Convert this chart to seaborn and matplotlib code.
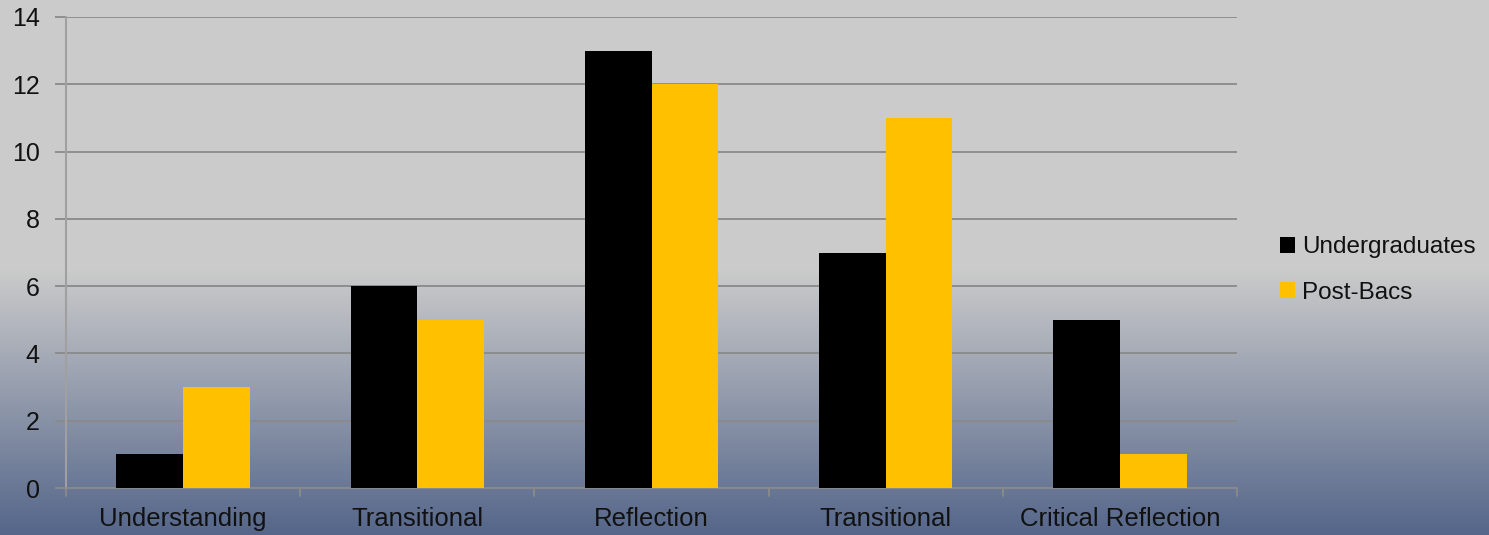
import numpy as np
import pandas as pd
import matplotlib
matplotlib.use("Agg")
import matplotlib.pyplot as plt
import seaborn as sns
from matplotlib.patches import Patch

categories = ["Understanding", "Transitional", "Reflection", "Transitional ", "Critical Reflection"]
category_labels = ["Understanding", "Transitional", "Reflection", "Transitional", "Critical Reflection"]
undergraduates = [1, 6, 13, 7, 5]
post_bacs = [3, 5, 12, 11, 1]
series_names = ["Undergraduates", "Post-Bacs"]
colors = ["#000000", "#FFC000"]

df = pd.DataFrame({
    "category": categories * 2,
    "series": [series_names[0]] * 5 + [series_names[1]] * 5,
    "value": undergraduates + post_bacs,
})

sns.set_theme(style="white")
plt.rcParams["font.family"] = ["Liberation Sans", "DejaVu Sans"]

W, H, DPI = 1489, 535, 100
fig = plt.figure(figsize=(W / DPI, H / DPI), dpi=DPI)

# background gradient
bg = fig.add_axes([0, 0, 1, 1], zorder=-10)
ys = np.linspace(0, 1, 535)  # 0 = top
start = 270 / 535
t = np.clip((ys - start) / (1 - start), 0, 1)
top = np.array([0xCB, 0xCB, 0xCB]) / 255
bot = np.array([0x55, 0x66, 0x8A]) / 255
img = top[None, :] * (1 - t[:, None]) + bot[None, :] * t[:, None]
img = np.repeat(img[:, None, :], 4, axis=1)
bg.imshow(img, aspect="auto", extent=[0, 1, 0, 1])
bg.axis("off")

ax = fig.add_axes([66 / W, 1 - 488 / H, (1237 - 66) / W, (488 - 17) / H])
ax.patch.set_alpha(0)

sns.barplot(data=df, x="category", y="value", hue="series", palette=colors,
            ax=ax, width=0.57, gap=0, saturation=1, legend=False, zorder=3,
            linewidth=0, edgecolor="none")

ax.set_ylim(0, 14)
ax.set_xlim(-0.5, 4.5)
ax.set_yticks(range(0, 15, 2))
ax.yaxis.grid(True, color="#8A8A8A", linewidth=1.3, zorder=0)
ax.set_axisbelow(True)
ax.set_xlabel("")
ax.set_ylabel("")
ax.set_xticks(range(5))
ax.set_xticklabels(category_labels, fontsize=18.5, color="#111111")
ax.tick_params(axis="x", length=0, pad=14)
ax.tick_params(axis="y", labelsize=18, colors="#111111", length=8, width=1.3,
               color="#8A8A8A", left=True, pad=11)
# category boundary ticks
for xb in np.arange(-0.5, 5.0, 1.0):
    ax.plot([xb, xb], [0, -0.25], color="#8A8A8A", lw=1.3, clip_on=False, zorder=2)

for s in ["top", "right"]:
    ax.spines[s].set_visible(False)
ax.spines["left"].set_color("#A0A0A0")
ax.spines["left"].set_linewidth(1.5)
ax.spines["bottom"].set_color("#8A8A8A")
ax.spines["bottom"].set_linewidth(1.3)

handles = [Patch(facecolor=c, edgecolor="none") for c in colors]
fig.legend(handles, series_names, loc="center left",
           bbox_to_anchor=(1280 / W, 1 - 270 / H), frameon=False,
           borderpad=0, borderaxespad=0,
           fontsize=17.5, handlelength=0.6, handleheight=0.6, handletextpad=0.3,
           labelspacing=0.95, labelcolor="#111111")

fig.savefig("out.png", dpi=DPI)
